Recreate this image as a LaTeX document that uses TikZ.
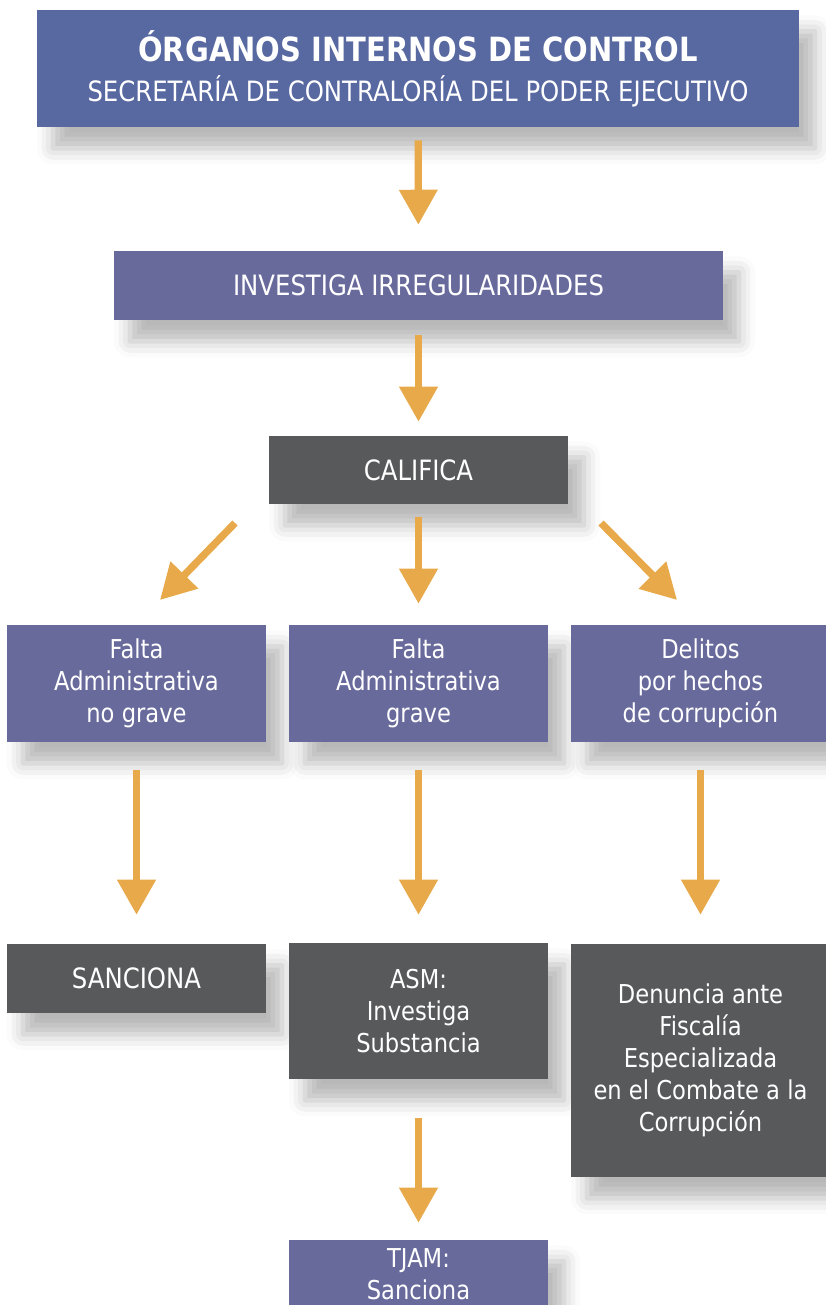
\documentclass[tikz,border=0pt]{standalone}
\usepackage{fontspec}
\setmainfont{DejaVu Sans}[FakeStretch=0.87]
\usetikzlibrary{arrows.meta,shadows.blur}

\definecolor{azul}{RGB}{88,104,160}
\definecolor{lila}{RGB}{104,106,156}
\definecolor{gris}{RGB}{88,89,91}
\definecolor{naranja}{RGB}{232,169,74}

\tikzset{
  caja/.style={fill=#1, text=white, inner sep=0pt, align=center,
    font=\fontsize{19.5}{24}\selectfont,
    blur shadow={shadow xshift=12pt, shadow yshift=-16pt, shadow blur radius=12pt, shadow opacity=28}},
  fila/.style={caja=#1, minimum width=194.25pt},
  mayus/.style={font=\fontsize{21}{24}\selectfont},
  flecha/.style={draw=naranja, line width=5.5pt, -{Triangle[width=27.75pt,length=26.25pt]}}
}

\begin{document}
\begin{tikzpicture}[x=0.75pt,y=0.75pt,yscale=-1,xscale=1]
            \useasboundingbox (0,0) rectangle (825,1305);
            % cajas
            \node [caja=azul, minimum width=571.5pt, minimum height=87.75pt, font=\fontsize{21}{30}\selectfont] (oic) at (418,68.5) {{\fontsize{25}{30}\selectfont\bfseries ÓRGANOS INTERNOS DE CONTROL}\\SECRETARÍA DE CONTRALORÍA DEL PODER EJECUTIVO};
            \node [caja=lila, mayus, minimum width=456.75pt, minimum height=51.75pt] (inv) at (418.5,285.5) {INVESTIGA IRREGULARIDADES};
            \node [caja=gris, mayus, minimum width=224.25pt, minimum height=51pt] (cal) at (418.5,470) {CALIFICA};
            \node [fila=lila, minimum height=87.75pt] (fa1) at (136.5,683.5) {Falta\\Administrativa\\no grave};
            \node [fila=lila, minimum height=87.75pt] (fa2) at (418.5,683.5) {Falta\\Administrativa\\grave};
            \node [fila=lila, minimum height=87.75pt] (del) at (700.5,683.5) {Delitos\\por hechos\\de corrupción};
            \node [fila=gris, mayus, minimum height=51.75pt] (san) at (136.5,978.5) {SANCIONA};
            \node [fila=gris, minimum height=102pt] (asm) at (418.5,1011) {ASM:\\Investiga\\Substancia};
            \node [fila=gris, minimum height=174.75pt] (den) at (700.5,1060.5) {Denuncia ante\\Fiscalía\\Especializada\\en el Combate a la\\Corrupción};
            \node [fila=lila, minimum height=51pt] (tjam) at (418.5,1274) {TJAM:\\Sanciona};
            % flechas
            \coordinate (cal-i) at (235,523);
            \coordinate (fa1-n) at (160,600);
            \coordinate (cal-d) at (601,523);
            \coordinate (del-n) at (677,600);
            \draw [flecha, shorten <=9.75pt, shorten >=19.5pt] (oic) -- (inv);
            \draw [flecha, shorten <=11.25pt, shorten >=10.5pt] (inv) -- (cal);
            \draw [flecha] (cal-i) -- (fa1-n);
            \draw [flecha, shorten <=9.75pt, shorten >=15.75pt] (cal) -- (fa2);
            \draw [flecha] (cal-d) -- (del-n);
            \draw [flecha, shorten <=21pt, shorten >=21.75pt] (fa1) -- (san);
            \draw [flecha, shorten <=21pt, shorten >=21pt] (fa2) -- (asm);
            \draw [flecha, shorten <=21pt, shorten >=21.75pt] (del) -- (den);
            \draw [flecha, shorten <=29.25pt, shorten >=12.75pt] (asm) -- (tjam);
          \end{tikzpicture}
\end{document}
